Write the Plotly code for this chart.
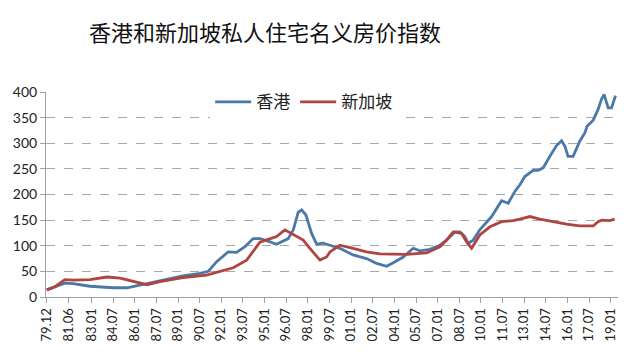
import plotly.graph_objects as go

# ---- data ----
hk_t = [1979.90, 1980.47, 1981.16, 1981.72, 1982.90, 1984.49, 1985.46, 1986.36, 1987.75, 1988.65,
        1989.34, 1990.52, 1991.10, 1991.68, 1992.48, 1993.06, 1993.64, 1994.21, 1994.68, 1995.14,
        1995.83, 1996.64, 1996.99, 1997.33, 1997.57, 1997.87, 1998.26, 1998.61, 1999.06, 1999.53,
        2000.22, 2001.14, 2002.07, 2002.77, 2003.46, 2003.92, 2004.61, 2005.30, 2005.77, 2006.46,
        2007.15, 2007.62, 2008.19, 2008.54, 2008.88, 2009.11, 2009.46, 2009.92, 2010.74, 2011.43,
        2011.89, 2012.35, 2012.70, 2013.04, 2013.62, 2013.96, 2014.31, 2014.78, 2015.24, 2015.59,
        2015.82, 2016.04, 2016.39, 2016.85, 2017.20, 2017.36, 2017.78, 2018.12, 2018.36, 2018.54,
        2018.82, 2019.05, 2019.33]
hk_v = [14, 20, 27, 26, 21, 18, 18, 23, 31, 36,
        41, 46, 50, 69, 88, 87, 98, 114, 114, 110,
        103, 114, 131, 165, 170, 160, 124, 103, 105, 101,
        95, 82, 75, 65.5, 60, 67, 78, 95, 90, 93,
        101, 111, 127, 127, 118, 105, 111, 131, 157, 188,
        183, 206, 219, 235, 247, 247, 252, 274.5, 295.5, 305,
        294, 274.5, 274.5, 304, 320, 333, 345, 366, 386, 395,
        369, 369, 393]

sg_t = [1979.90, 1980.47, 1981.16, 1981.72, 1982.90, 1984.08, 1984.98, 1986.36, 1986.85, 1987.75,
        1988.65, 1989.34, 1990.98, 1991.91, 1992.83, 1993.76, 1994.21, 1994.68, 1995.25, 1995.83,
        1996.41, 1996.76, 1997.68, 1998.14, 1998.84, 1999.30, 1999.53, 2000.22, 2000.57, 2001.14,
        2002.07, 2002.99, 2004.84, 2006.23, 2007.15, 2007.62, 2008.07, 2008.66, 2009.00, 2009.35,
        2009.92, 2010.62, 2011.43, 2012.23, 2012.70, 2013.39, 2014.08, 2015.00, 2015.93, 2016.85,
        2017.78, 2018.12, 2018.36, 2018.93, 2019.27]
sg_v = [14, 20, 34, 33, 34, 39, 37, 27.5, 24, 30,
        35, 38, 42.5, 50, 57, 72, 88, 107, 112.5, 118,
        131, 125.5, 111, 95, 72, 78, 88, 101, 99, 95,
        88, 84, 83, 86, 98, 111, 127, 124, 108, 95,
        121, 137, 147, 149, 152, 157, 152, 147, 142, 138.6,
        138.6, 147, 150, 149, 152]

tick_labels = ["79.12", "81.06", "83.01", "84.07", "86.01", "87.07", "89.01", "90.07", "92.01",
               "93.07", "95.01", "96.07", "98.01", "99.07", "01.01", "02.07", "04.01", "05.07",
               "07.01", "08.07", "10.01", "11.07", "13.01", "14.07", "16.01", "17.07", "19.01"]
y_ticks = [0, 50, 100, 150, 200, 250, 300, 350, 400]

title_text = "香港和新加坡私人住宅名义房价指数"
names = ["香港", "新加坡"]


def label_to_year(lbl):
    yy, mm = lbl.split(".")
    yy = int(yy)
    year = 1900 + yy if yy >= 50 else 2000 + yy
    return year + (int(mm) - 1) / 12.0


tick_vals = [label_to_year(l) for l in tick_labels]

fig = go.Figure()
fig.add_trace(go.Scatter(x=hk_t, y=hk_v, mode="lines", name=names[0],
                         line=dict(color="#4A79A8", width=2.8)))
fig.add_trace(go.Scatter(x=sg_t, y=sg_v, mode="lines", name=names[1],
                         line=dict(color="#B04441", width=2.8)))

tick_font = dict(family="Lato, 'Liberation Sans', sans-serif", size=14, color="#222222")

fig.update_layout(
    width=630, height=352,
    margin=dict(l=46, r=12, t=92, b=55),
    paper_bgcolor="white", plot_bgcolor="white",
    title=dict(text=title_text, x=265 / 630, xanchor="center", xref="container",
               y=1 - 33 / 352, yanchor="middle", yref="container",
               font=dict(family="'Noto Sans CJK SC', sans-serif", size=22, color="#111111")),
    legend=dict(orientation="h", x=0.287, xanchor="left", y=0.95, yanchor="middle",
                bgcolor="white", font=dict(family="'Noto Sans CJK SC', sans-serif", size=17,
                                           color="#222222"),
                itemwidth=36, tracegroupgap=0),
    showlegend=True,
)

fig.update_xaxes(range=[1979.85, 2019.50], tickmode="array", tickvals=tick_vals,
                 ticktext=tick_labels, tickangle=-90, ticks="outside", ticklen=5,
                 tickcolor="#A0A0A0", showline=True, linecolor="#A0A0A0", linewidth=1,
                 showgrid=False, zeroline=False,
                 tickfont=dict(family="Lato, 'Liberation Sans', sans-serif", size=13,
                               color="#222222"))
fig.update_yaxes(range=[0, 400], tickmode="array", tickvals=y_ticks, ticks="outside",
                 ticklen=5, tickcolor="#A0A0A0", showline=True, linecolor="#A0A0A0",
                 linewidth=1, showgrid=True, gridcolor="#A8A8A8", griddash="dash",
                 gridwidth=1, zeroline=False, tickfont=tick_font)

fig.write_html("out.html")
